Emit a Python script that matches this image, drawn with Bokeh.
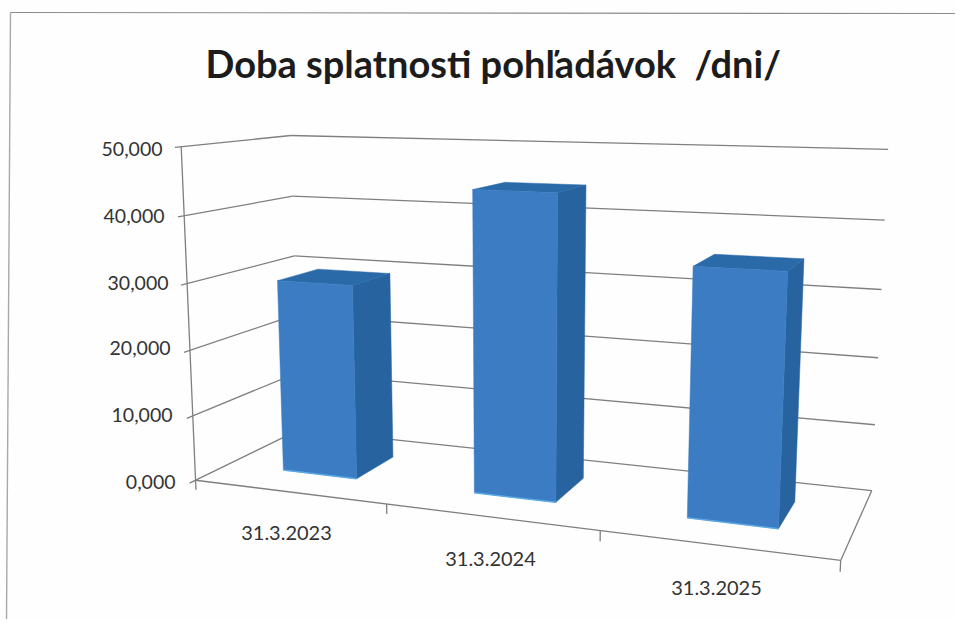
import numpy as np
from bokeh.plotting import figure
from bokeh.embed import file_html
from bokeh.resources import INLINE
from bokeh.core.properties import value

TITLE = "Doba splatnosti pohľadávok \u00a0/dni/"
categories = ["31.3.2023", "31.3.2024", "31.3.2025"]
days = [29.6, 44.4, 35.2]
value_ticks = [0, 10, 20, 30, 40, 50]
value_labels = ["0,000", "10,000", "20,000", "30,000", "40,000", "50,000"]

VMAX = 50.0
FRONT, SIDE, TOP = "#3b7cc2", "#27649f", "#2b6aa9"
GRID = "#7f7f7f"

# Camera calibration: cube corners (u, w, v) -> page pixel
cube = [(0,0,0),(0,0,1),(0,1,0),(0,1,1),(1,1,0),(1,1,1),(1,0,0)]
page = [(193,479),(183,146),(301,430),(288,135),(871,489),(888,149),(840,561)]
A = []
for (u,w,v),(x,y) in zip(cube,page):
    A.append([u,w,v,1,0,0,0,0,-x*u,-x*w,-x*v,-x])
    A.append([0,0,0,0,u,w,v,1,-y*u,-y*w,-y*v,-y])
P = np.linalg.svd(np.array(A,float))[2][-1].reshape(3,4)

def proj(u, w, val):
    q = P @ np.array([u, w, val/VMAX, 1.0])
    return q[0]/q[2], q[1]/q[2]

p = figure(width=955, height=619, output_backend="svg", toolbar_location=None,
           x_range=(0,955), y_range=(619,0), min_border=0,
           background_fill_color="#fefefe", border_fill_color="#fefefe",
           outline_line_color=None)
p.axis.visible = False
p.grid.visible = False

def seg(a, b, color=GRID, w=1.3):
    p.line([a[0],b[0]],[a[1],b[1]], line_color=color, line_width=w)

# chart frame
p.line([10,955],[12,13], line_color="#8c8c8c", line_width=1.2)
p.line([10,6],[12,619], line_color="#a8a8a8", line_width=1.4)

# walls, floor, ticks
for t in value_ticks:
    seg(proj(0,-0.05,t), proj(0,1,t))
    seg(proj(0,1,t), proj(1,1,t))
seg(proj(0,0,0), proj(0,0,VMAX))
seg(proj(0,0,0), proj(1,0,0))
seg(proj(1,0,0), proj(1,1,0))
for i in range(len(categories)+1):
    u = i/len(categories)
    seg(proj(u,0,0), proj(u,0,-1.5))

# bars
HALF, W0, W1 = 0.066, 0.30, 0.70
for i, d in enumerate(days):
    c = (i+0.5)/len(days)
    u0, u1 = c-HALF, c+HALF
    faces = [
        ([(u1,W0,0),(u1,W1,0),(u1,W1,d),(u1,W0,d)], SIDE),
        ([(u0,W0,d),(u1,W0,d),(u1,W1,d),(u0,W1,d)], TOP),
        ([(u0,W0,0),(u1,W0,0),(u1,W0,d),(u0,W0,d)], FRONT),
    ]
    for pts, col in faces:
        xy = [proj(*q) for q in pts]
        p.patch([a for a,b in xy],[b for a,b in xy], fill_color=col, line_color=col, line_width=0.5)
    seg(proj(u0,W0,0), proj(u1,W0,0), color="#5aa9e6", w=1.5)

# texts
p.text(x=[205], y=[62], text=[TITLE], text_font=value("Lato"), text_font_style="bold",
       text_font_size="38px", text_color="#1c1c1c", text_align="left", text_baseline="middle")
vx = [175,172,170,168,164,162]
vy = [481,414,347,282,215,148]
p.text(x=vx, y=vy, text=value_labels, text_font=value("Lato"), text_font_size="19.5px",
       text_color="#333333", text_align="right", text_baseline="middle")
p.text(x=[286,490,716], y=[532,558,587], text=categories, text_font=value("Lato"),
       text_font_size="20px", text_color="#333333", text_align="center", text_baseline="middle")

open("out.html","w").write(file_html(p, INLINE))
